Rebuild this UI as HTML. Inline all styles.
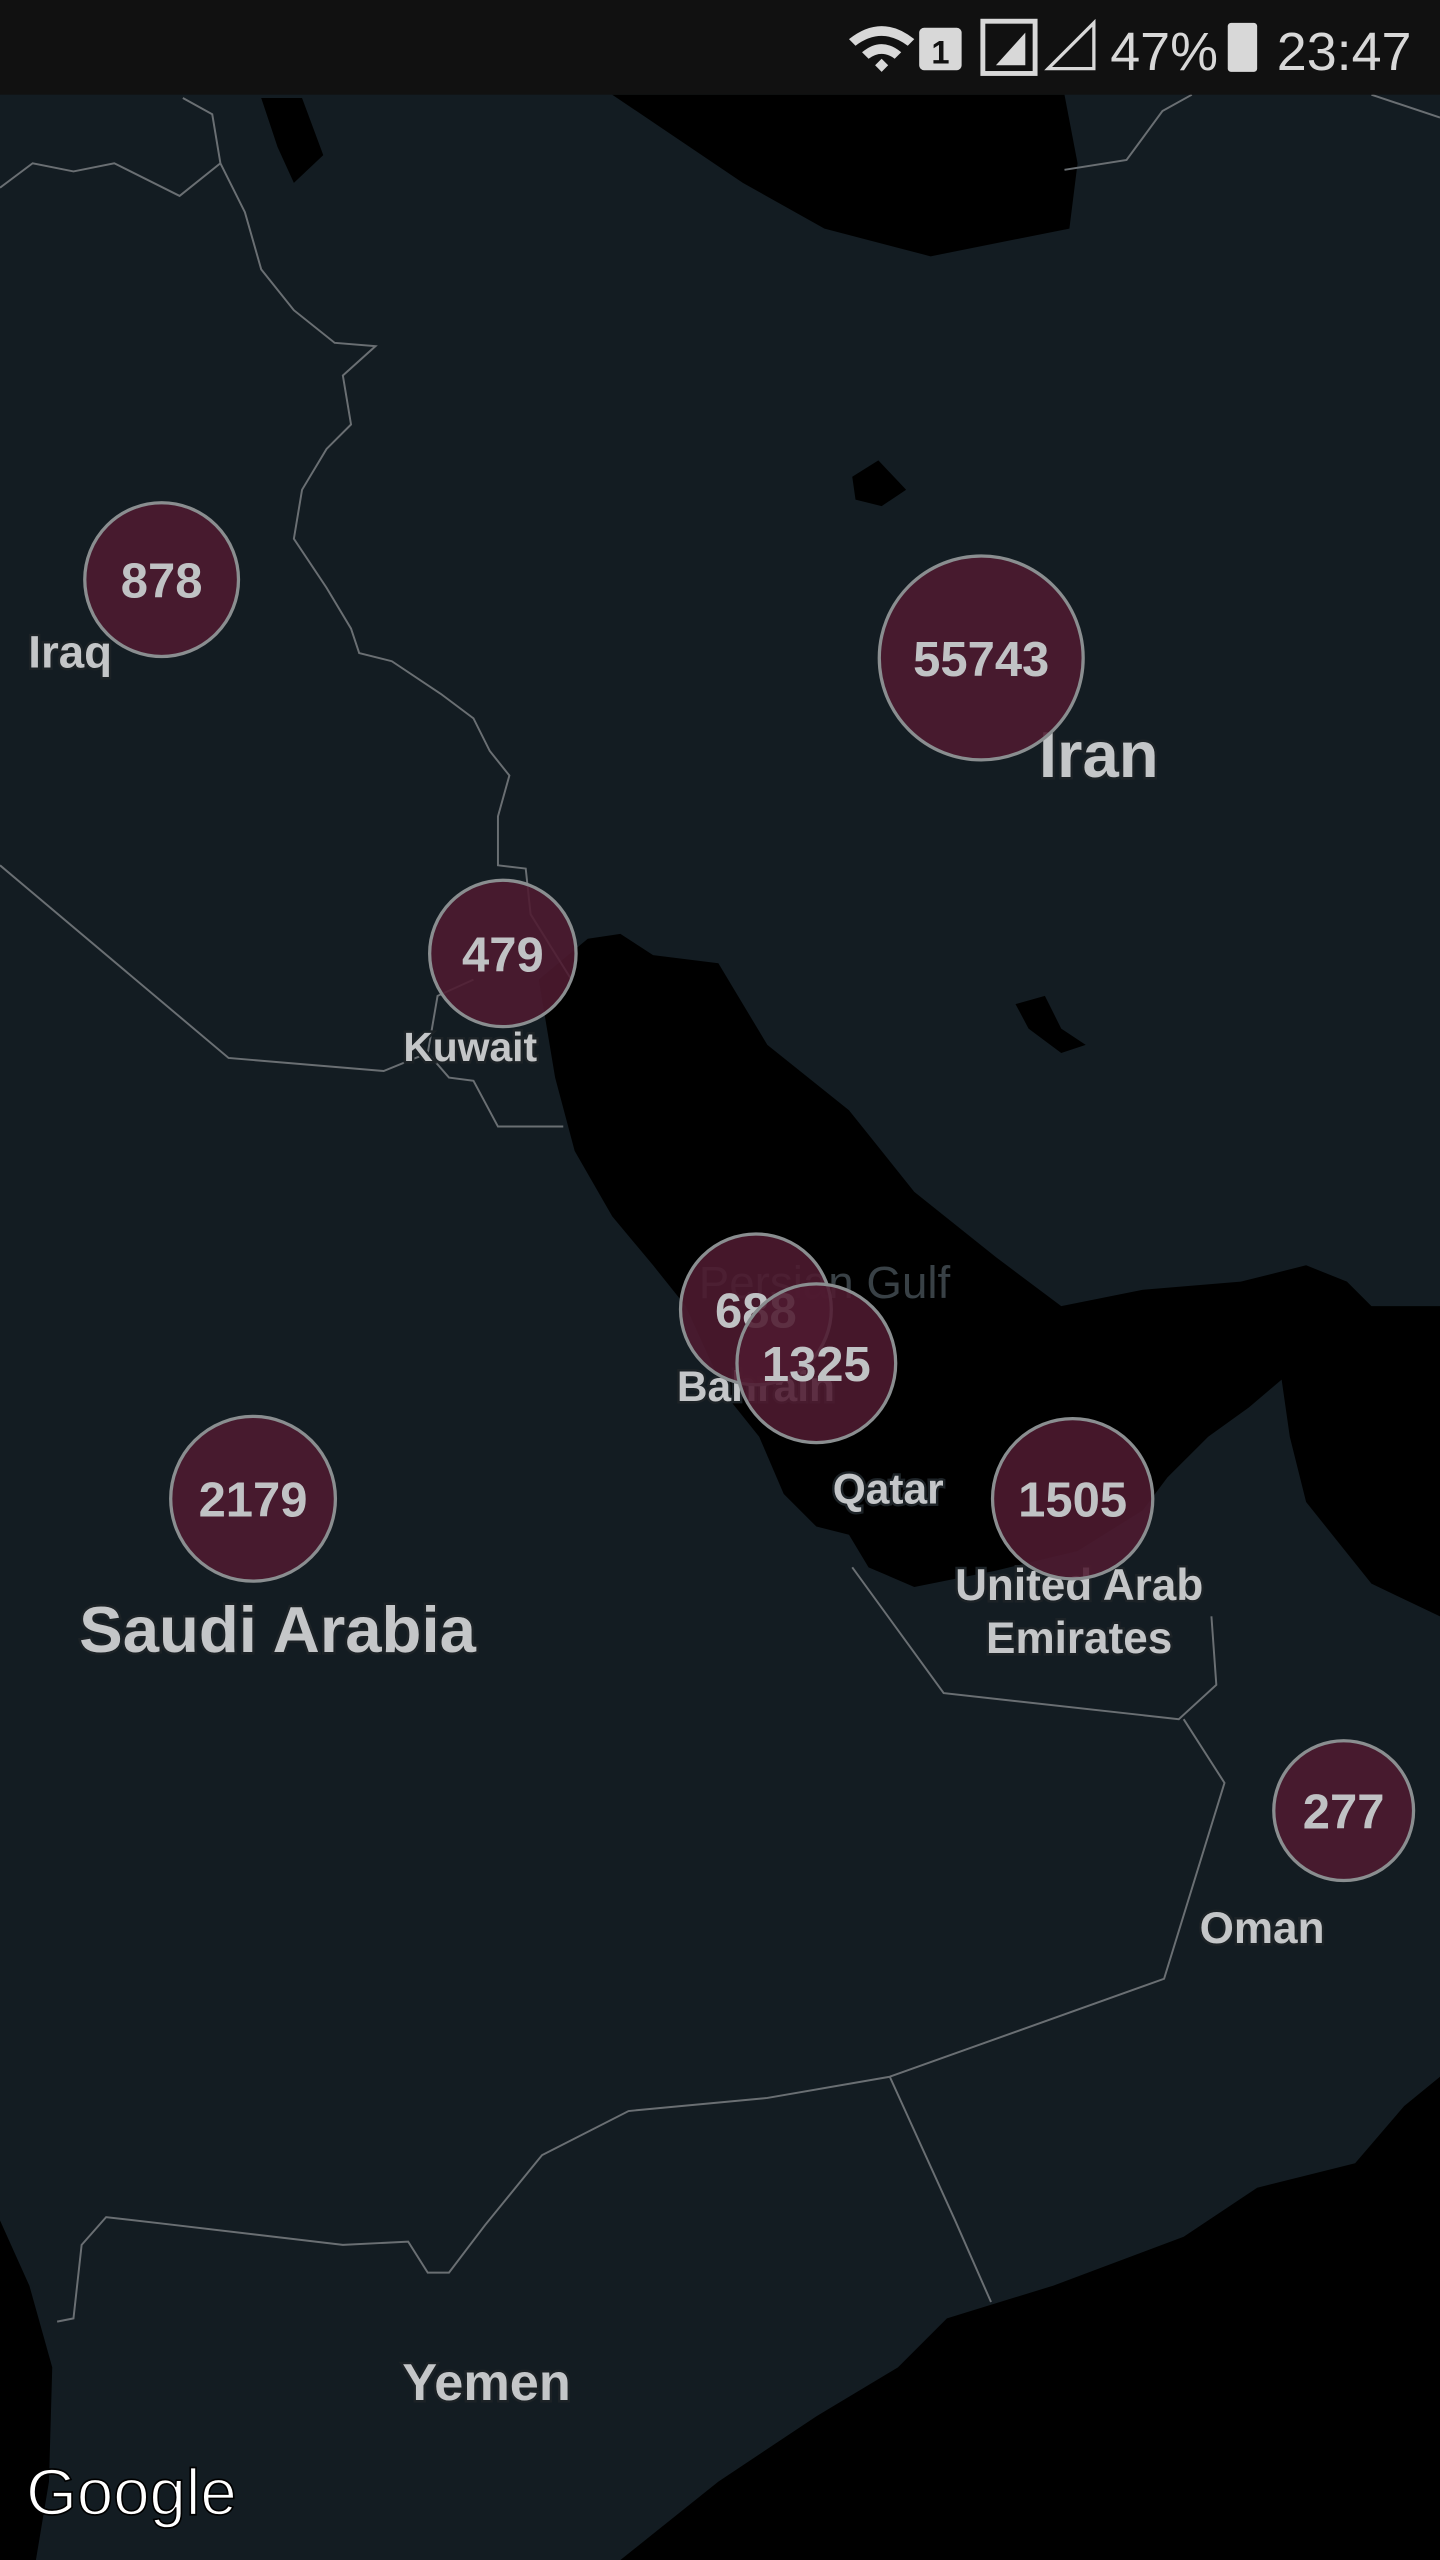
<!DOCTYPE html>
<html><head><meta charset="utf-8">
<style>
html,body{margin:0;padding:0;background:#131c22;width:1440px;height:2560px;overflow:hidden}
svg{display:block}
text{font-family:"Liberation Sans",sans-serif;font-weight:bold}
.lbl{fill:#c4c6c8;stroke:#1c2226;stroke-width:3;paint-order:stroke}
</style></head>
<body>
<svg id="map" width="1440" height="2560" viewBox="0 0 882 1568" xmlns="http://www.w3.org/2000/svg">
<rect width="882" height="1568" fill="#131c22"/>
<g fill="#000">
<path d="M330,600 L360,575 L380,572 L400,585 L440,590 L470,640 L520,680 L560,730 L610,770 L650,800 L700,790 L760,785 L800,775 L825,785 L840,800 L882,800 L882,990 L840,970 L800,920 L790,880 L785,845 L765,862 L740,880 L715,905 L700,925 L660,950 L610,962 L560,972 L532,960 L520,940 L500,935 L480,915 L465,880 L445,855 L420,800 L400,775 L375,745 L352,705 L340,660 Z"/>
<path d="M375,58 L652,58 L660,100 L655,140 L570,157 L505,140 L455,112 Z"/>
<path d="M882,1272 L860,1290 L830,1325 L770,1340 L725,1370 L645,1400 L580,1420 L550,1450 L500,1480 L440,1520 L380,1568 L882,1568 Z"/>
<path d="M0,1360 L18,1400 L32,1450 L30,1520 L22,1568 L0,1568 Z"/>
<path d="M522,292 L538,282 L555,300 L540,310 L524,306 Z"/>
<path d="M160,60 L185,60 L198,95 L180,112 L170,90 Z"/>
<path d="M622,615 L640,610 L650,630 L665,640 L650,645 L630,630 Z"/>
</g>
<g fill="none" stroke="#6a6f73" stroke-width="1.2">
<path d="M112,60 L130,70 L135,100 L150,130 L160,165 L180,190 L205,210 L230,212 L210,230 L215,260 L200,275 L185,300 L180,330 L200,360 L215,385 L220,400 L240,405 L270,425 L290,440 L300,460 L312,475 L305,500 L305,530 L322,532 L325,560 L350,600"/>
<path d="M0,530 L140,648 L235,656 L262,645 L275,660 L290,662 L305,690 L345,690"/>
<path d="M262,645 L268,610 L290,600"/>
<path d="M522,960 L578,1037 L722,1053 L745,1032 L742,990"/>
<path d="M725,1053 L750,1092 L713,1212 L545,1272 L470,1285 L385,1293 L332,1320 L297,1363 L275,1392 L262,1392 L250,1373 L210,1375 L100,1362 L65,1358 L50,1375 L45,1420 L35,1422"/>
<path d="M545,1272 L585,1360 L607,1410"/>
<path d="M0,115 L20,100 L45,105 L70,100 L110,120 L135,100"/>
<path d="M652,104 L690,98 L712,68 L730,58 M840,58 L882,72"/>
</g>
<text x="505" y="795" font-size="28" fill="#394146" style="font-weight:normal" text-anchor="middle">Persian Gulf</text>
<g id="labels"></g>
<g id="clusters"></g>
<rect width="882" height="58" fill="#111111"/>
<g fill="#d8d8d8">
<path d="M520,24 Q540,8 560,24 L556,28 Q540,16 524,28 Z M528,32 Q540,22 552,32 L548,36 Q540,30 532,36 Z M536,40 L540,36 L544,40 L540,44 Z"/>
<rect x="563" y="17" width="26" height="26" rx="3"/>
<text x="576" y="39" font-size="20" fill="#111" text-anchor="middle">1</text>
<rect x="602" y="13" width="32" height="32" fill="none" stroke="#d8d8d8" stroke-width="3"/>
<path d="M610,40 L628,20 L628,40 Z"/>
<path d="M642,42 L670,14 L670,42 Z" fill="none" stroke="#d8d8d8" stroke-width="2"/>
<text x="680" y="43" font-size="33" style="font-weight:normal">47%</text>
<rect x="752" y="14" width="18" height="30" rx="2"/>
<text x="782" y="43" font-size="33" style="font-weight:normal">23:47</text>
</g>
<text x="16" y="1540" font-size="40" fill="#ffffff" style="font-weight:normal" stroke="#000" stroke-width="1">Google</text>
</svg>
<script>
var names=["Iraq","Iran","Kuwait","Bahrain","Qatar","Saudi Arabia","United Arab Emirates","Oman"];
var counts=[878,55743,479,688,1325,2179,1505,277];
var clusterX=[99,601,308,463,500,155,657,823];
var clusterY=[355,403,584,802,835,918,918,1109];
var labelTexts=["Iraq","Iran","Kuwait","Bahrain","Qatar","Saudi Arabia","United Arab|Emirates","Oman","Yemen"];
var labelX=[43,673,288,463,544,170,661,773,298];
var labelY=[409,476,650,858,921,1012,980,1190,1470];
var labelSizes=[28,40,25,26,26,40,27,27,32];
function radius(n){return 22+3.7*Math.log(n);}
var NS="http://www.w3.org/2000/svg";
var cg=document.getElementById('clusters');
for(var i=0;i<counts.length;i++){
  var g=document.createElementNS(NS,'g');
  
  
  var c=document.createElementNS(NS,'circle');
  c.setAttribute('cx',clusterX[i]);c.setAttribute('cy',clusterY[i]);c.setAttribute('r',radius(counts[i]));
  c.setAttribute('fill','#4f1a30');c.setAttribute('fill-opacity','0.88');
  c.setAttribute('stroke','#8a8e90');c.setAttribute('stroke-width','2');
  
  
  g.appendChild(c);
  var t=document.createElementNS(NS,'text');
  t.setAttribute('x',clusterX[i]);t.setAttribute('y',clusterY[i]+11);
  t.setAttribute('text-anchor','middle');t.setAttribute('font-size','30');t.setAttribute('fill','#c0c2c4');
  t.textContent=counts[i];
  
  
  g.appendChild(t);
  cg.appendChild(g);
}
var lg=document.getElementById('labels');
for(var j=0;j<labelTexts.length;j++){
  var parts=labelTexts[j].split('|');
  for(var k=0;k<parts.length;k++){
    var lt=document.createElementNS(NS,'text');
    lt.setAttribute('x',labelX[j]);lt.setAttribute('y',labelY[j]+k*labelSizes[j]*1.2);
    lt.setAttribute('text-anchor','middle');lt.setAttribute('font-size',labelSizes[j]);
    lt.setAttribute('class','lbl');
    lt.textContent=parts[k];
    
    
    lg.appendChild(lt);
  }
}
</script>
</body></html>
